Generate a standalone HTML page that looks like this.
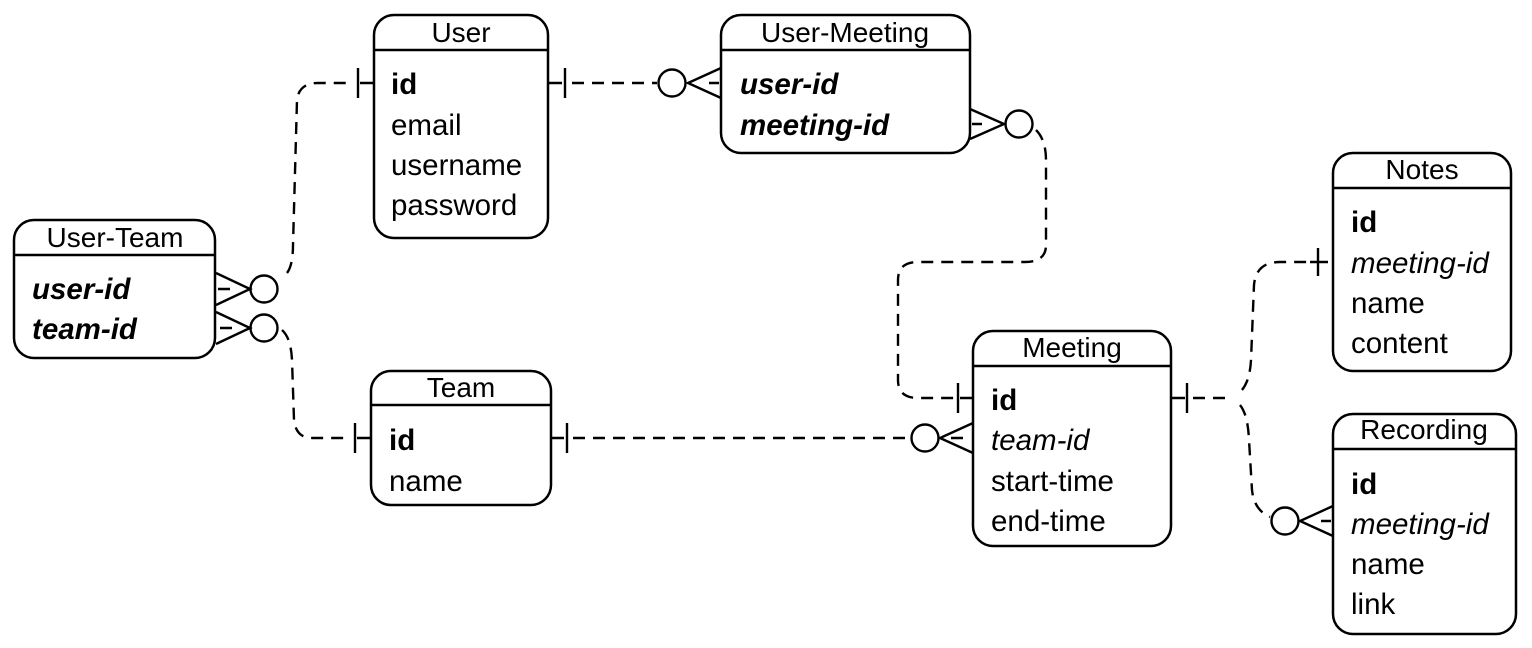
<!DOCTYPE html>
<html><head><meta charset="utf-8"><style>
html,body{margin:0;padding:0;background:#fff;}
svg{display:block;}
text{font-family:"Liberation Sans",Arial,sans-serif;fill:#000;}
.t{font-size:29.5px;}
.h{font-size:28px;}
.b{font-weight:bold;}
.i{font-style:italic;}
</style></head><body>
<svg width="1532" height="648" viewBox="0 0 1532 648" xmlns="http://www.w3.org/2000/svg">
<g fill="none" stroke="#000" stroke-width="2.5">
<rect x="374" y="15" width="174" height="223" rx="20"/><line x1="374" y1="50" x2="548" y2="50"/>
<rect x="721" y="15" width="249" height="138" rx="20"/><line x1="721" y1="50" x2="970" y2="50"/>
<rect x="14" y="220" width="201" height="138" rx="20"/><line x1="14" y1="255" x2="215" y2="255"/>
<rect x="371" y="371" width="180" height="134" rx="20"/><line x1="371" y1="405" x2="551" y2="405"/>
<rect x="973" y="331" width="198" height="215" rx="20"/><line x1="973" y1="366" x2="1171" y2="366"/>
<rect x="1333" y="153" width="178" height="218" rx="20"/><line x1="1333" y1="188" x2="1511" y2="188"/>
<rect x="1333" y="414" width="183" height="220" rx="20"/><line x1="1333" y1="449" x2="1516" y2="449"/>
</g>
<g fill="none" stroke="#000" stroke-width="2.4">
<g stroke-dasharray="12,8">
<path d="M287 273 Q293 265 293 245 L297 100 Q299 83 318 83 L352 83"/>
<path d="M282 330 Q291 338 292 360 L294 420 Q296 438 312 438 L350 438"/>
<path d="M572 83 L657 83"/>
<path d="M1036 130 Q1046 140 1046 160 L1046 245 Q1046 262 1025 262 L918 262 Q898 262 898 280 L898 380 Q898 398 918 398 L955 398"/>
<path d="M573 438 L910 438"/>
<path d="M1193 398 L1232 398"/>
<path d="M1242 390 Q1250 380 1251 360 L1254 285 Q1256 262 1280 262 L1312 262"/>
<path d="M1240 405 Q1248 415 1249 440 L1252 490 Q1254 510 1270 517"/>
</g>
<path d="M216 273 L250 289 L216 305 M218 289 L230 289"/>
<circle cx="264" cy="289" r="13.5"/>
<path d="M216 312 L250 328 L216 344 M220 328 L232 328"/>
<circle cx="264" cy="328" r="13.5"/>
<path d="M358 68 L358 98 M360 83 L374 83"/>
<path d="M355 423 L355 453 M357 438 L371 438"/>
<path d="M548 83 L562 83 M565 68 L565 98"/>
<circle cx="672" cy="83" r="13.5"/>
<path d="M721 68 L688 83 L721 98 M709 83 L719 83"/>
<path d="M970 109 L1004 124 L970 139 M972 124 L982 124"/>
<circle cx="1019" cy="124" r="13.5"/>
<path d="M958 383 L958 413 M960 398 L973 398"/>
<path d="M551 438 L564 438 M567 423 L567 453"/>
<circle cx="925" cy="438" r="13.5"/>
<path d="M973 423 L940 438 L973 453 M951 438 L963 438"/>
<path d="M1171 398 L1185 398 M1187 383 L1187 413"/>
<path d="M1318 248 L1318 276 M1310 262 L1328 262"/>
<circle cx="1285" cy="521" r="13.5"/>
<path d="M1333 506 L1300 521 L1333 536 M1321 521 L1331 521"/>
</g>
<text class="h" x="461" y="42" text-anchor="middle">User</text>
<text class="t b" x="391" y="94">id</text>
<text class="t" x="391" y="135">email</text>
<text class="t" x="391" y="175">username</text>
<text class="t" x="391" y="215">password</text>

<text class="h" x="845" y="42" text-anchor="middle">User-Meeting</text>
<text class="t b i" x="740" y="94">user-id</text>
<text class="t b i" x="740" y="135">meeting-id</text>

<text class="h" x="115" y="247" text-anchor="middle">User-Team</text>
<text class="t b i" x="32" y="299">user-id</text>
<text class="t b i" x="32" y="339">team-id</text>

<text class="h" x="461" y="397" text-anchor="middle">Team</text>
<text class="t b" x="389" y="450">id</text>
<text class="t" x="389" y="491">name</text>

<text class="h" x="1072" y="357" text-anchor="middle">Meeting</text>
<text class="t b" x="991" y="410">id</text>
<text class="t i" x="991" y="450">team-id</text>
<text class="t" x="991" y="491">start-time</text>
<text class="t" x="991" y="531">end-time</text>

<text class="h" x="1422" y="179" text-anchor="middle">Notes</text>
<text class="t b" x="1351" y="232">id</text>
<text class="t i" x="1351" y="273">meeting-id</text>
<text class="t" x="1351" y="313">name</text>
<text class="t" x="1351" y="353">content</text>

<text class="h" x="1424" y="439" text-anchor="middle">Recording</text>
<text class="t b" x="1351" y="494">id</text>
<text class="t i" x="1351" y="534">meeting-id</text>
<text class="t" x="1351" y="574">name</text>
<text class="t" x="1351" y="614">link</text>
</svg>
</body></html>
